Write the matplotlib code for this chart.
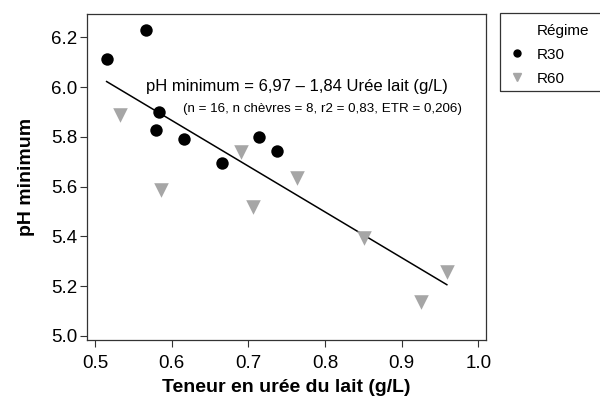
import numpy as np
import matplotlib
matplotlib.use("Agg")
import matplotlib.pyplot as plt
from matplotlib.lines import Line2D
from matplotlib.patches import Rectangle

plt.rcParams['font.family'] = ['Liberation Sans', 'DejaVu Sans']

# R30 points (uree du lait g/L, pH minimum)
r30_x = [0.515, 0.566, 0.583, 0.580, 0.616, 0.666, 0.714, 0.737]
r30_y = [6.114, 6.228, 5.900, 5.827, 5.790, 5.693, 5.800, 5.743]
# R60 points
r60_x = [0.533, 0.586, 0.690, 0.706, 0.764, 0.851, 0.925, 0.959]
r60_y = [5.888, 5.586, 5.738, 5.519, 5.633, 5.392, 5.137, 5.258]

# regression
intercept = 6.97
slope = -1.84

xticks = [0.5, 0.6, 0.7, 0.8, 0.9, 1.0]
yticks = [5.0, 5.2, 5.4, 5.6, 5.8, 6.0, 6.2]

fig = plt.figure(figsize=(6, 4.01), dpi=100)
ax = fig.add_axes([0.1445, 0.1521, 0.665, 0.813])

ax.scatter(r30_x, r30_y, s=80, marker='o', color='black', linewidths=0, zorder=3)
ax.scatter(r60_x, r60_y, s=110, marker='v', color='#a6a6a6', linewidths=0, zorder=3)

all_x = np.array(r30_x + r60_x)
xs = np.array([all_x.min(), all_x.max()])
ax.plot(xs, intercept + slope * xs, color='black', lw=1.1, zorder=2)

ax.set_xlim(0.489, 1.0097)
ax.set_ylim(4.983, 6.294)
ax.set_xticks(xticks)
ax.set_yticks(yticks)
ax.set_xticklabels([f"{v:.1f}" for v in xticks])
ax.set_yticklabels([f"{v:.1f}" for v in yticks])
ax.tick_params(labelsize=13.5, length=5, width=0.8, color='#333333')
ax.tick_params(axis='x', pad=6)
ax.tick_params(axis='y', pad=2)
for s in ax.spines.values():
    s.set_color('#333333')
    s.set_linewidth(0.9)

ax.set_xlabel("Teneur en urée du lait (g/L)", fontsize=14, fontweight='bold', labelpad=5)
ax.set_ylabel("pH minimum", fontsize=14, fontweight='bold', labelpad=11)

ax.text(0.526, 0.779, "pH minimum = 6,97 – 1,84 Urée lait (g/L)", transform=ax.transAxes,
        ha='center', va='center', fontsize=12)
ax.text(0.592, 0.709, "(n = 16, n chèvres = 8, r2 = 0,83, ETR = 0,206)", transform=ax.transAxes,
        ha='center', va='center', fontsize=9.6)

# legend box
fig.patches.append(Rectangle((500 / 600, 1 - 90.7 / 401), 0.3, (90.7 - 13.3) / 401,
                             transform=fig.transFigure, fill=False, edgecolor='#333333',
                             linewidth=0.9))
handles = [Line2D([], [], linestyle='none'),
           Line2D([], [], marker='o', color='black', linestyle='none', markersize=5),
           Line2D([], [], marker='v', color='#a6a6a6', linestyle='none', markersize=6)]
fig.legend(handles, ["Régime", "R30", "R60"], loc='upper left',
           bbox_to_anchor=(499 / 600, 1 - 13 / 401), frameon=False, fontsize=11,
           handlelength=1.0, handletextpad=0.8, labelspacing=0.65, borderpad=0.2)

fig.savefig("out.png", dpi=100)
